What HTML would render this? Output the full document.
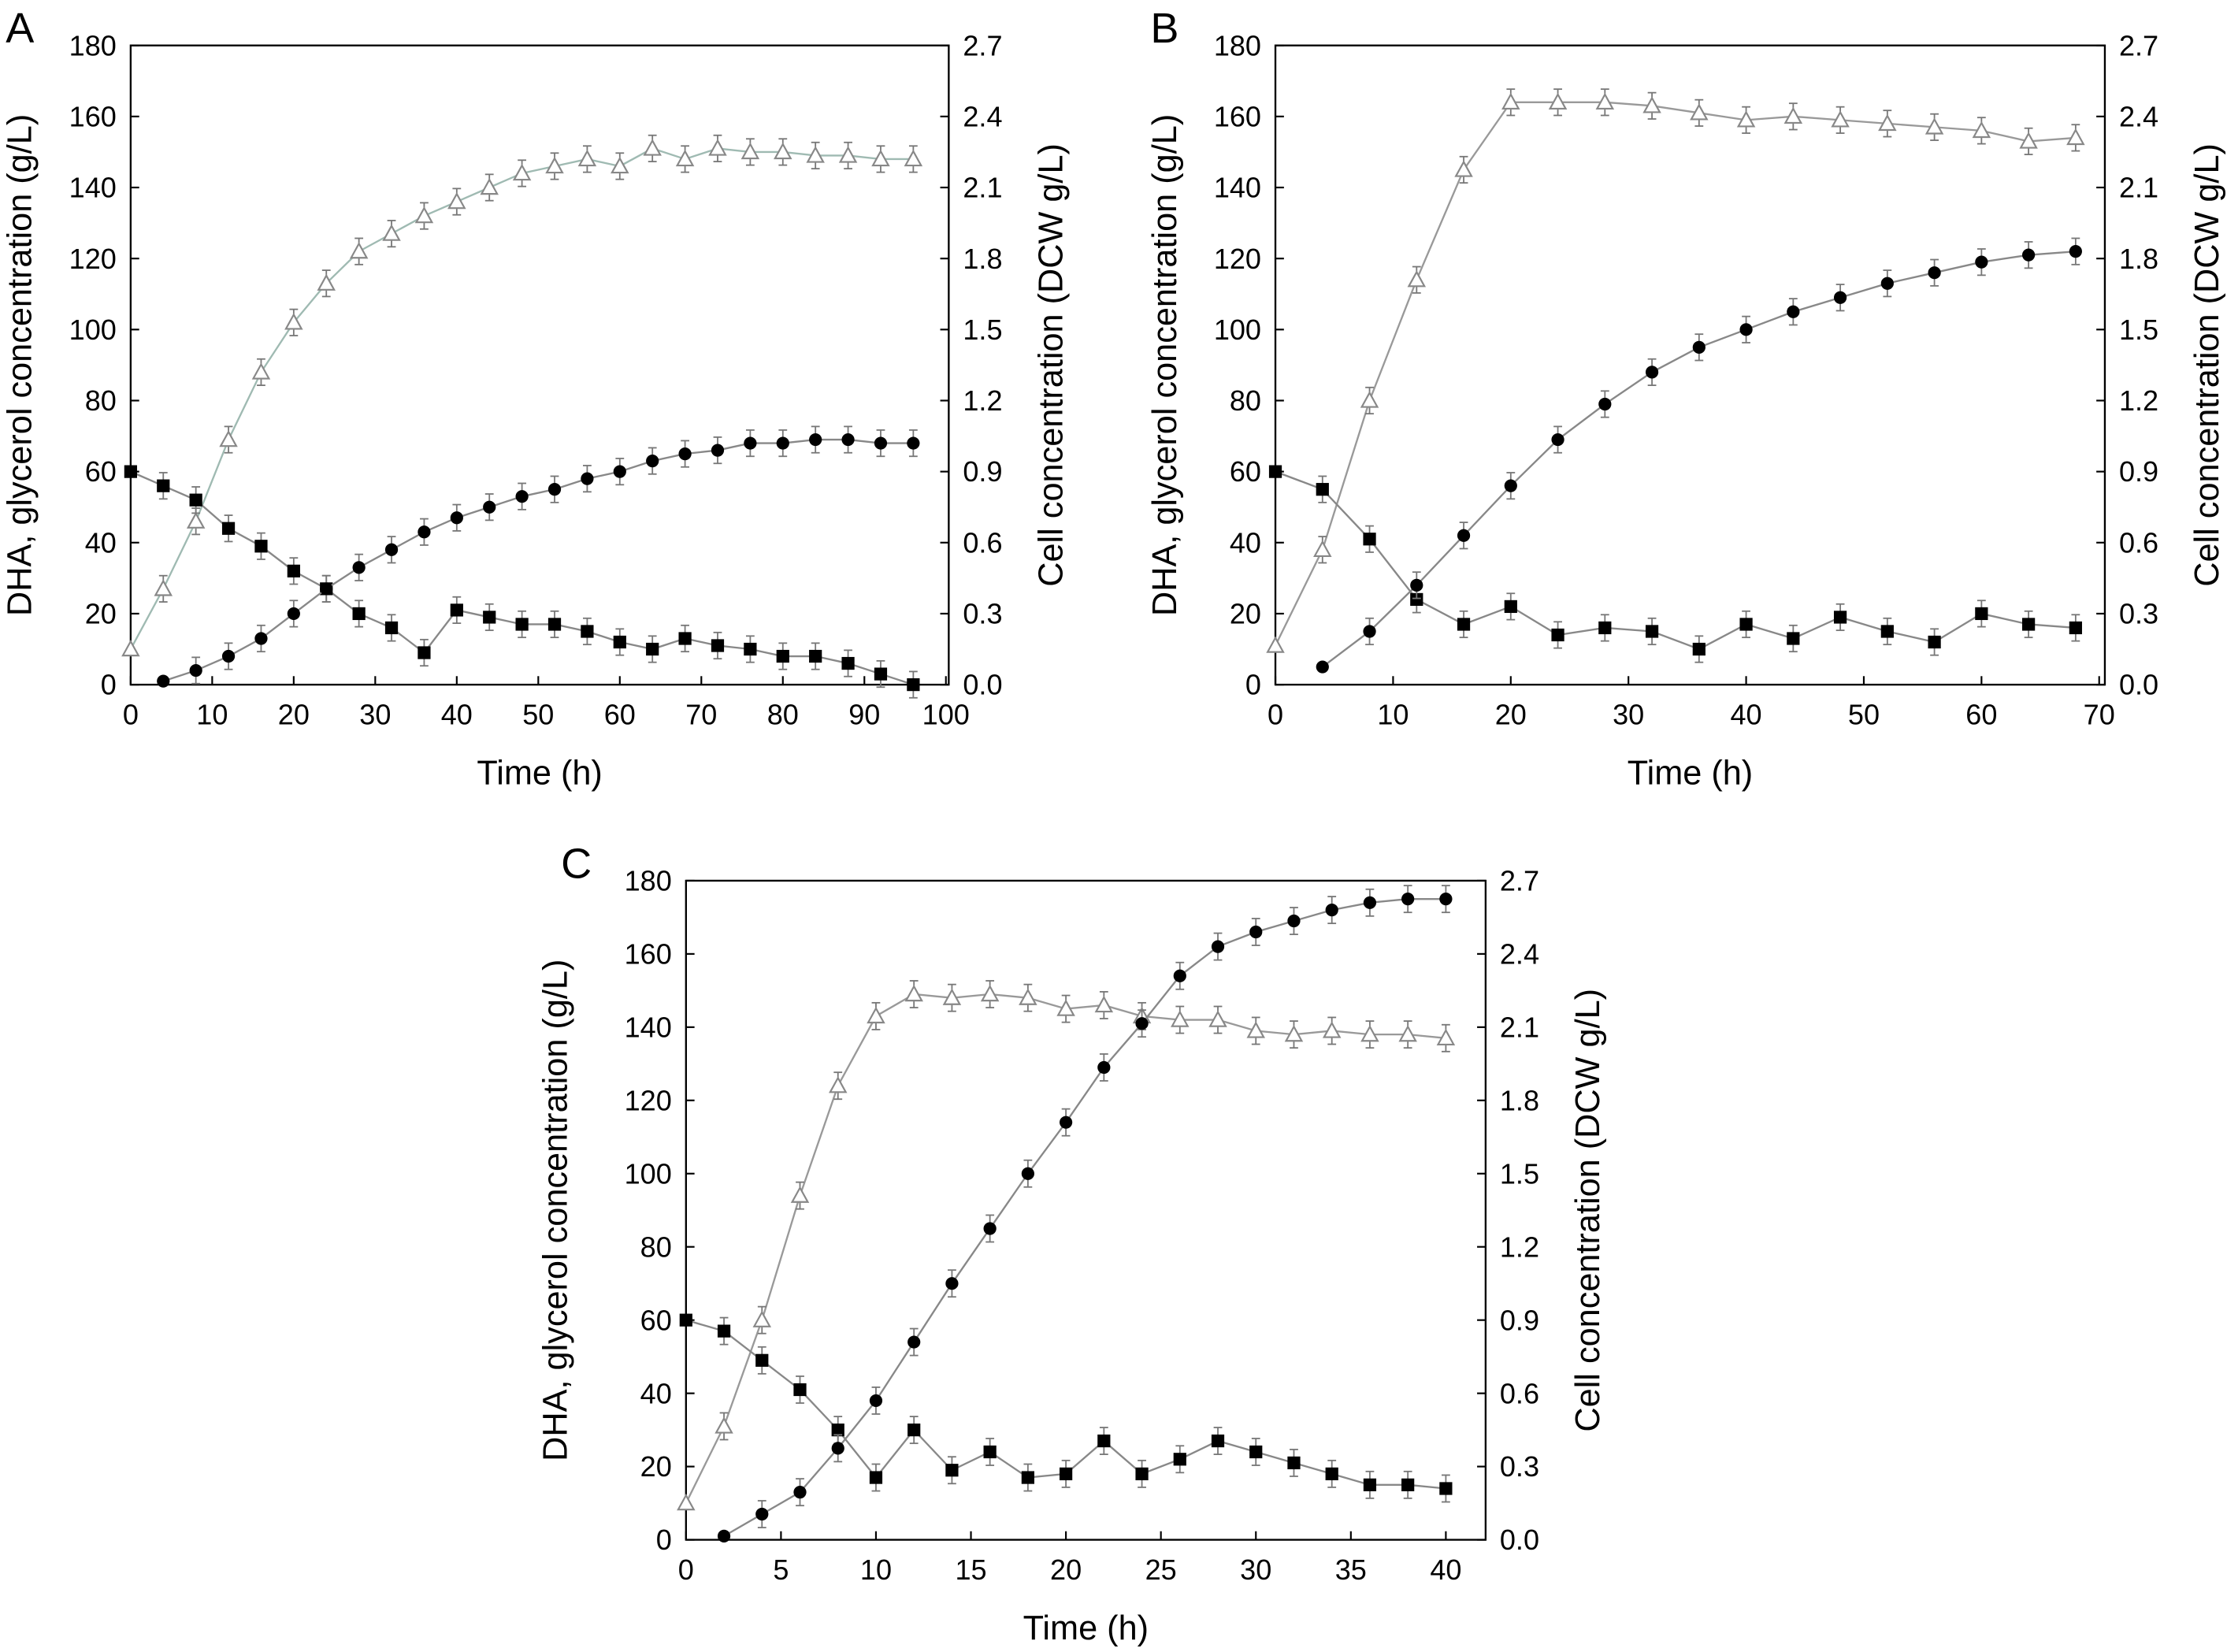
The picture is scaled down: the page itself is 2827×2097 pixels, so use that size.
<!DOCTYPE html>
<html><head><meta charset="utf-8"><style>
html,body{margin:0;padding:0;background:#fff;}
svg{display:block;font-family:"Liberation Sans",Arial,sans-serif;}
</style></head><body>
<svg id="fig" width="2827" height="2097" viewBox="0 0 1568 1163" preserveAspectRatio="none" xmlns="http://www.w3.org/2000/svg"></svg>
<script>
const leftTicks=[0,20,40,60,80,100,120,140,160,180];
const rightTicks=["0.0","0.3","0.6","0.9","1.2","1.5","1.8","2.1","2.4","2.7"];
const xTicksA=[0,10,20,30,40,50,60,70,80,90,100];
const xTicksB=[0,10,20,30,40,50,60,70];
const xTicksC=[0,5,10,15,20,25,30,35,40];
const timeA=[0,4,8,12,16,20,24,28,32,36,40,44,48,52,56,60,64,68,72,76,80,84,88,92,96];
const triA=[10,27,46,69,88,102,113,122,127,132,136,140,144,146,148,146,151,148,151,150,150,149,149,148,148];
const cirA=[null,1,4,8,13,20,27,33,38,43,47,50,53,55,58,60,63,65,66,68,68,69,69,68,68];
const sqA=[60,56,52,44,39,32,27,20,16,9,21,19,17,17,15,12,10,13,11,10,8,8,6,3,0];
const timeB=[0,4,8,12,16,20,24,28,32,36,40,44,48,52,56,60,64,68];
const triB=[11,38,80,114,145,164,164,164,163,161,159,160,159,158,157,156,153,154];
const cirB=[null,5,15,28,42,56,69,79,88,95,100,105,109,113,116,119,121,122];
const sqB=[60,55,41,24,17,22,14,16,15,10,17,13,19,15,12,20,17,16];
const timeC=[0,2,4,6,8,10,12,14,16,18,20,22,24,26,28,30,32,34,36,38,40];
const triC=[10,31,60,94,124,143,149,148,149,148,145,146,143,142,142,139,138,139,138,138,137];
const cirC=[null,1,7,13,25,38,54,70,85,100,114,129,141,154,162,166,169,172,174,175,175];
const sqC=[60,57,49,41,30,17,30,19,24,17,18,27,18,22,27,24,21,18,15,15,14];

const NS="http://www.w3.org/2000/svg";
const svg=document.getElementById('fig');
function mk(tag,attrs,parent,text){const e=document.createElementNS(NS,tag);for(const k in attrs)e.setAttribute(k,attrs[k]);if(text!==undefined)e.textContent=text;(parent||svg).appendChild(e);return e;}

function panel(id,letter,box,xmax,xTicks,time,tri,cir,sq,triColor,lOff){
  const g=mk('g',{});
  
  
  const {l,r,t,b,x1}=box;
  const X=v=>l+(x1-l)*v/xmax;
  const Y=v=>b-(b-t)*v/180;
  const frame=mk('rect',{x:l,y:t,width:r-l,height:b-t,fill:'none',stroke:'#000','stroke-width':1.3},g);
  
  
  leftTicks.forEach((v,i)=>{
    mk('line',{x1:l,x2:l+6,y1:Y(v),y2:Y(v),stroke:'#000','stroke-width':1.2},g);
    mk('line',{x1:r,x2:r-6,y1:Y(v),y2:Y(v),stroke:'#000','stroke-width':1.2},g);
    const tl=mk('text',{x:l-10,y:Y(v)+7,'text-anchor':'end','font-size':20},g,String(v));
    
    
    const tr=mk('text',{x:r+10,y:Y(v)+7,'text-anchor':'start','font-size':20},g,rightTicks[i]);
    
    
  });
  xTicks.forEach(v=>{
    mk('line',{x1:X(v),x2:X(v),y1:b,y2:b-6,stroke:'#000','stroke-width':1.2},g);
    const tx=mk('text',{x:X(v),y:b+28,'text-anchor':'middle','font-size':20},g,String(v));
    
    
  });
  const xt=mk('text',{x:(l+r)/2,y:b+70,'text-anchor':'middle','font-size':24},g,'Time (h)');
  
  
  const ly=(t+b)/2;
  const lx=l-lOff;
  const yl=mk('text',{x:lx,y:ly,'text-anchor':'middle','font-size':24,transform:`rotate(-90 ${lx} ${ly})`},g,'DHA, glycerol concentration (g/L)');
  
  
  const yr=mk('text',{x:r+80,y:ly,'text-anchor':'middle','font-size':24,transform:`rotate(-90 ${r+80} ${ly})`},g,'Cell concentration (DCW g/L)');
  
  
  const pl=mk('text',{x:l-88,y:t-2,'font-size':30},g,letter);
  
  

  function series(vals,kind,color,name){
    const sg=mk('g',{},g);
    
    
    const pts=[];
    vals.forEach((v,i)=>{if(v!==null)pts.push([X(time[i]),Y(v)]);});
    mk('polyline',{points:pts.map(p=>p.join(',')).join(' '),fill:'none',stroke:color,'stroke-width':1.3},sg);
    pts.forEach((p,i)=>{
      const e=2.5*(b-t)/180+3;
      if(i>0){mk('line',{x1:p[0],x2:p[0],y1:p[1]-e,y2:p[1]+e,stroke:'#777','stroke-width':1},sg);
        mk('line',{x1:p[0]-3,x2:p[0]+3,y1:p[1]-e,y2:p[1]-e,stroke:'#777','stroke-width':1},sg);
        mk('line',{x1:p[0]-3,x2:p[0]+3,y1:p[1]+e,y2:p[1]+e,stroke:'#777','stroke-width':1},sg);}
      let m;
      if(kind==='tri')m=mk('polygon',{points:`${p[0]},${p[1]-5.5} ${p[0]-5.5},${p[1]+4.5} ${p[0]+5.5},${p[1]+4.5}`,fill:'#fff',stroke:'#888','stroke-width':1.2},sg);
      else if(kind==='cir')m=mk('circle',{cx:p[0],cy:p[1],r:4.5,fill:'#000'},sg);
      else m=mk('rect',{x:p[0]-4.5,y:p[1]-4.5,width:9,height:9,fill:'#000'},sg);
      
      
    });
  }
  series(tri,'tri',triColor,'dha-series');
  series(sq,'sq','#888','glycerol-series');
  series(cir,'cir','#888','cell-series');
}
panel('a','A',{l:92,r:668,t:32,b:482,x1:666},100,xTicksA,timeA,triA,cirA,sqA,'#9fbab2',70);
panel('b','B',{l:898,r:1482,t:32,b:482,x1:1478},70,xTicksB,timeB,triB,cirB,sqB,'#999',70);
panel('c','C',{l:483,r:1046,t:620,b:1084,x1:1018},40,xTicksC,timeC,triC,cirC,sqC,'#999',84);
</script>
</body></html>
